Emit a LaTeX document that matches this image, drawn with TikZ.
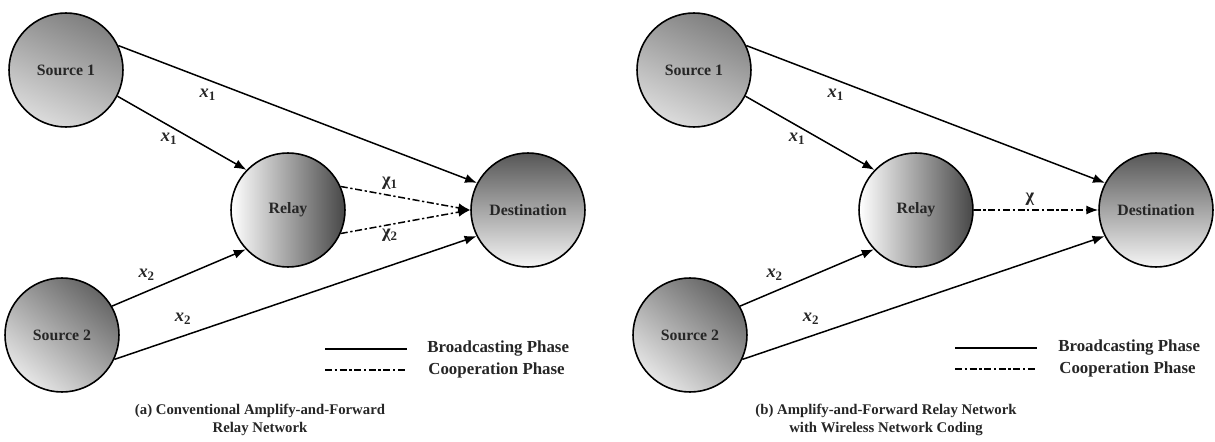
\documentclass[tikz,border=0pt]{standalone}
\usepackage{fontspec}
\setmainfont{Liberation Serif}
\usepackage{xcolor}
\usetikzlibrary{arrows.meta,positioning}

\begin{document}
\begin{tikzpicture}[x=0.02cm, y=-0.02cm, >={Latex[length=6.8pt,width=5.2pt]},
  nd/.style={circle, draw, line width=0.9pt, minimum size=2.28cm, inner sep=0pt, text=black!85, font=\fontsize{9}{10}\selectfont\bfseries},
  srcone/.style={nd, top color=black!50, bottom color=black!14, shading angle=-25},
  srctwo/.style={nd, top color=black!60, bottom color=black!10, shading angle=-40},
  rly/.style={nd, left color=white, right color=black!72, shading angle=90},
  dst/.style={nd, top color=black!66, bottom color=black!4},
  bc/.style={->, line width=0.85pt},
  coop/.style={->, line width=0.85pt, dash pattern=on 4pt off 1.5pt on 1.3pt off 1.5pt},
  lbl/.style={inner sep=1pt, text=black!85, font=\fontsize{10.5}{12}\selectfont\bfseries},
  leg/.style={inner sep=0pt, text=black!85, font=\fontsize{9.6}{11}\selectfont\bfseries},
  captxt/.style={align=center, text=black!85, font=\fontsize{8.4}{10.4}\selectfont\bfseries}]
  \useasboundingbox (0,0) rectangle (1215,442);

  % (a) conventional AF
  \node[srcone] (s1a) at (66,70) {Source 1};
  \node[srctwo] (s2a) at (62,335) {Source 2};
  \node[rly] (ra) at (288,210) {Relay};
  \node[dst] (da) at (528,210) {Destination};
  \draw[bc] (s1a.25) -- (da.152) node[lbl, pos=0.25, below=4pt] (xa1) {\textit{x}\textsubscript{1}};
  \draw[bc] (s1a.-27) -- (ra.136) node[lbl, pos=0.4, below=3pt] (xa2) {\textit{x}\textsubscript{1}};
  \draw[bc] (s2a.30) -- (ra.223) node[lbl, pos=0.26, above=5pt] (xa3) {\textit{x}\textsubscript{2}};
  \draw[bc] (s2a.-25) -- (da.207) node[lbl, pos=0.19, above=5pt] (xa4) {\textit{x}\textsubscript{2}};
  \draw[coop] (ra.24) -- (da.180) node[lbl, pos=0.38, above=2pt] (ca1) {χ\textsubscript{1}};
  \draw[coop] (ra.-24) -- (da.180) node[lbl, pos=0.38, below=1pt] (ca2) {χ\textsubscript{2}};
  \draw[line width=0.9pt] (325,349) coordinate (la1) -- (407,349) coordinate (la2);
  \draw[line width=0.9pt, dash pattern=on 4pt off 1.5pt on 1.3pt off 1.5pt] (325,370) coordinate (lb1) -- (407,370) coordinate (lb2);
  \node[leg, right=0.4cm of la2] (bpa) {Broadcasting Phase};
  \node[leg, right=0.42cm of lb2] (cpa) {Cooperation Phase};
  \node[captxt] (capa) at (260,420) {(a) Conventional Amplify-and-Forward\\Relay Network};

  % (b) AF with wireless network coding
  \node[srcone] (s1b) at (694,70) {Source 1};
  \node[srctwo] (s2b) at (690,335) {Source 2};
  \node[rly] (rb) at (916,210) {Relay};
  \node[dst] (db) at (1156,210) {Destination};
  \draw[bc] (s1b.25) -- (db.152) node[lbl, pos=0.25, below=4pt] (xb1) {\textit{x}\textsubscript{1}};
  \draw[bc] (s1b.-27) -- (rb.136) node[lbl, pos=0.4, below=3pt] (xb2) {\textit{x}\textsubscript{1}};
  \draw[bc] (s2b.30) -- (rb.223) node[lbl, pos=0.26, above=5pt] (xb3) {\textit{x}\textsubscript{2}};
  \draw[bc] (s2b.-25) -- (db.207) node[lbl, pos=0.19, above=5pt] (xb4) {\textit{x}\textsubscript{2}};
  \draw[coop] (rb) -- (db) node[lbl, pos=0.45, above=1pt] (cb) {χ};
  \draw[line width=0.9pt] (955,348) coordinate (lc1) -- (1037,348) coordinate (lc2);
  \draw[line width=0.9pt, dash pattern=on 4pt off 1.5pt on 1.3pt off 1.5pt] (955,369) coordinate (ld1) -- (1037,369) coordinate (ld2);
  \node[leg, right=0.42cm of lc2] (bpb) {Broadcasting Phase};
  \node[leg, right=0.44cm of ld2] (cpb) {Cooperation Phase};
  \node[captxt] (capb) at (886,420) {(b) Amplify-and-Forward Relay Network\\with Wireless Network Coding};
\end{tikzpicture}
\end{document}
